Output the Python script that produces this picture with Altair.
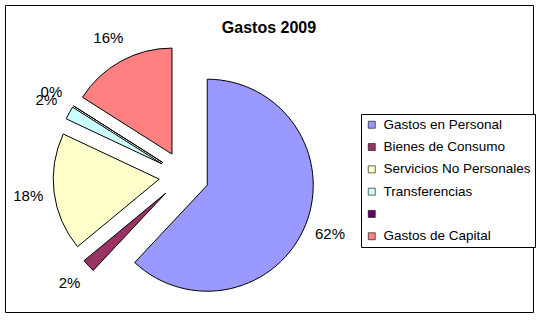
import math
import altair as alt
import pandas as pd

# ---- data ----
categories = ["Gastos en Personal", "Bienes de Consumo", "Servicios No Personales",
              "Transferencias", "", "Gastos de Capital"]
values = [62, 2, 18, 2, 0, 16]
colors = ["#9999FF", "#993366", "#FFFFCC", "#CCFFFF", "#660066", "#FF8080"]

df = pd.DataFrame({"cat": categories, "value": values, "order": list(range(len(values)))})

# ---- layout ----
W, H = 528, 307
R = 106            # pie radius (px)
EXPLODE = 25 / R   # explode distance in radius units
CX, CY = 179, 171  # pie centre inside plot area (px)
xdom = [-CX / R, (W - CX) / R]
ydom = [-(H - CY) / R, CY / R]
FONT = "Liberation Sans"

base = (
    alt.Chart(df)
    .transform_window(cum="sum(value)", sort=[alt.SortField("order")], frame=[None, 0])
    .transform_joinaggregate(total="sum(value)")
    .transform_calculate(
        start="datum.cum - datum.value",
        end="datum.cum",
        mid="datum.cum - datum.value / 2",
        ang="(datum.cum - datum.value / 2) / datum.total * 2 * PI",
    )
    .transform_calculate(
        ex=f"{EXPLODE} * sin(datum.ang)",
        ey=f"{EXPLODE} * cos(datum.ang)",
        label="datum.value + '%'",
    )
)

xenc = alt.X("ex:Q", scale=alt.Scale(domain=xdom, nice=False, zero=False), axis=None)
yenc = alt.Y("ey:Q", scale=alt.Scale(domain=ydom, nice=False, zero=False), axis=None)
theta_scale = alt.Scale(domain=[0, 100], range=[0, 2 * math.pi], nice=False)

arcs = base.mark_arc(outerRadius=R, stroke="black", strokeWidth=1).encode(
    x=xenc,
    y=yenc,
    theta=alt.Theta("start:Q", scale=theta_scale, stack=None),
    theta2="end:Q",
    color=alt.Color(
        "cat:N",
        scale=alt.Scale(domain=categories, range=colors),
        legend=alt.Legend(
            title=None,
            orient="none",
            legendX=356,
            legendY=109,
            strokeColor="black",
            fillColor="white",
            padding=4,
            symbolType="square",
            symbolSize=49,
            symbolStrokeColor="black",
            symbolStrokeWidth=0.6,
            labelFont=FONT,
            labelFontSize=13.5,
            labelColor="black",
            labelOffset=5,
            rowPadding=7.3,
            labelLimit=300,
        ),
    ),
    order=alt.Order("order:Q"),
)

labels = base.mark_text(radius=132, font=FONT, fontSize=15, color="black",
                        align="center", baseline="middle").encode(
    x=xenc,
    y=yenc,
    theta=alt.Theta("mid:Q", scale=theta_scale, stack=None),
    text="label:N",
)

chart = (
    alt.layer(arcs, labels)
    .properties(
        width=W,
        height=H,
        title=alt.Title("Gastos 2009", font=FONT, fontSize=16, fontWeight="bold",
                        color="black", anchor="middle", offset=-44, baseline="alphabetic"),
        autosize=alt.AutoSizeParams(type="none"),
        padding={"left": 5, "top": 5, "right": 7, "bottom": 8},
        background="white",
    )
    .configure_view(stroke="black", strokeWidth=1)
)

chart.save("out.html", embed_options={"renderer": "svg", "actions": False})
